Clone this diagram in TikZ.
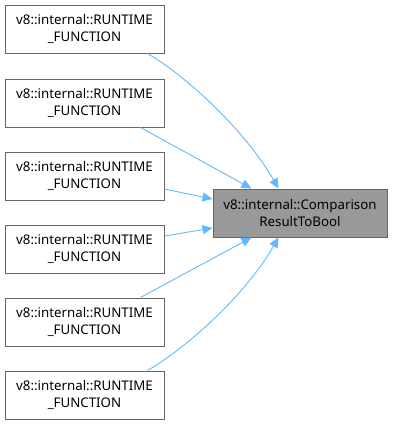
\documentclass[tikz,border=0pt]{standalone}
\usepackage{fontspec}
\setmainfont{Noto Sans}
\usetikzlibrary{arrows.meta,positioning}
\definecolor{kantenblau}{HTML}{63B8FF}
\definecolor{rahmengrau}{HTML}{666666}
\definecolor{knotengrau}{HTML}{999999}

\begin{document}
\begin{tikzpicture}[x=1pt,y=-1pt,
		caller/.style={draw=rahmengrau,fill=white,line width=1pt,minimum width=159pt,minimum height=48pt,
			inner sep=0pt,align=center,font=\fontsize{13.3}{17}\selectfont},
		callee/.style={caller,fill=knotengrau,minimum width=174pt},
		pfeil/.style={draw=kantenblau,line width=0.9pt,-{Triangle[length=10pt,width=9pt]}}]
	\useasboundingbox (0,0) rectangle (392,426);
	% callers on the left
	\node[caller] (f1) at (84.5,29)  {v8::internal::RUNTIME\\\_FUNCTION};
	\node[caller] (f2) at (84.5,103) {v8::internal::RUNTIME\\\_FUNCTION};
	\node[caller] (f3) at (84.5,176) {v8::internal::RUNTIME\\\_FUNCTION};
	\node[caller] (f4) at (84.5,249) {v8::internal::RUNTIME\\\_FUNCTION};
	\node[caller] (f5) at (84.5,322) {v8::internal::RUNTIME\\\_FUNCTION};
	\node[caller] (f6) at (84.5,395) {v8::internal::RUNTIME\\\_FUNCTION};
	% the called function
	\node[callee] (ziel) at (300,213) {v8::internal::Comparison\\ResultToBool};
	% calls
	\draw[pfeil] ([xshift=-17pt]f1.south east) .. controls +(38,22) and +(-34,-59) .. ([xshift=66pt]ziel.north west);
	\draw[pfeil] ([xshift=-24pt]f2.south east) -- ([xshift=39pt]ziel.north west);
	\draw[pfeil] ([yshift=-13pt]f3.east) -- ([yshift=14pt]ziel.west);
	\draw[pfeil] ([yshift=13pt]f4.east) -- ([yshift=-15pt]ziel.west);
	\draw[pfeil] ([xshift=-24pt]f5.north east) -- ([xshift=39pt]ziel.south west);
	\draw[pfeil] ([xshift=-17pt]f6.north east) .. controls +(38,-22) and +(-34,59) .. ([xshift=66pt]ziel.south west);
\end{tikzpicture}
\end{document}
